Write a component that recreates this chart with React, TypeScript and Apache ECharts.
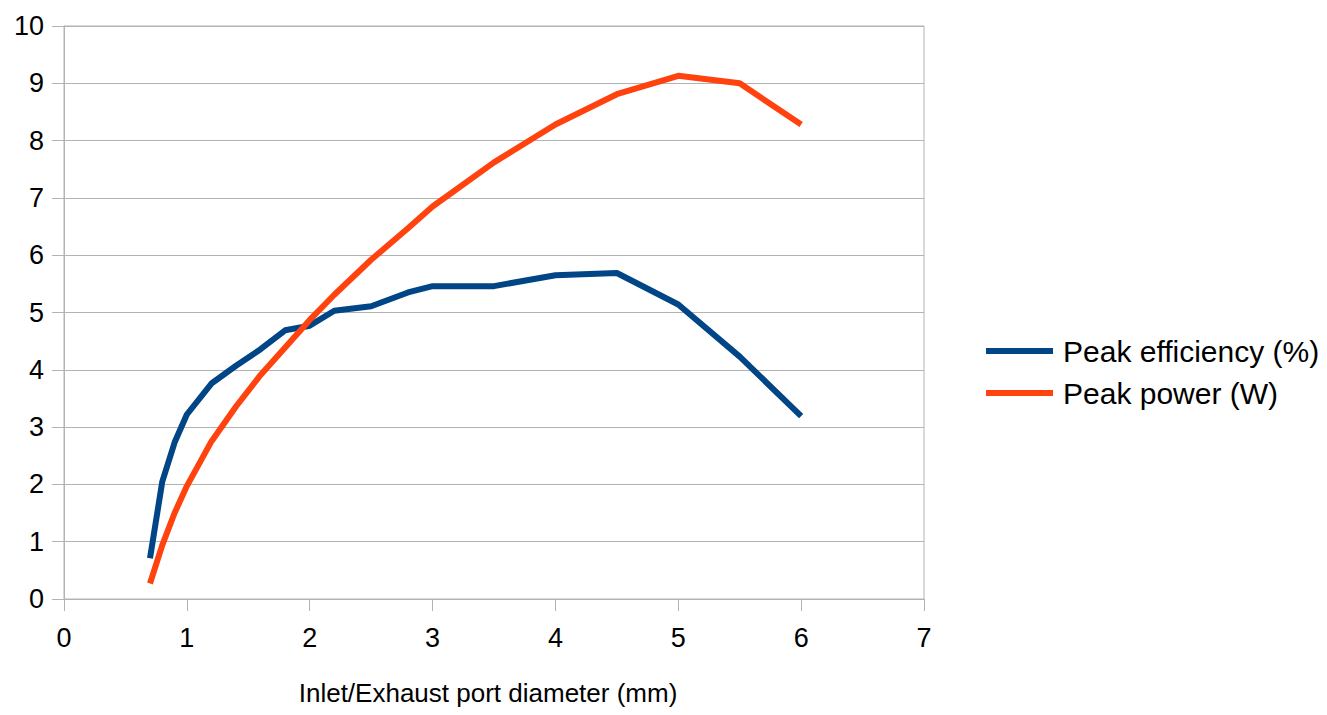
import React, { useEffect, useRef } from "react";
import * as echarts from "echarts";

const diameters = [0.7, 0.8, 0.9, 1.0, 1.2, 1.4, 1.6, 1.8, 2.0, 2.2, 2.5, 2.8, 3.0, 3.5, 4.0, 4.5, 5.0, 5.5, 6.0];
const peakEfficiency = [0.71, 2.05, 2.73, 3.22, 3.76, 4.07, 4.36, 4.69, 4.77, 5.03, 5.11, 5.35, 5.46, 5.46, 5.65, 5.69, 5.14, 4.23, 3.19];
const peakPower = [0.27, 0.94, 1.5, 1.97, 2.75, 3.36, 3.91, 4.39, 4.87, 5.31, 5.92, 6.47, 6.85, 7.62, 8.28, 8.81, 9.13, 9.0, 8.28];
const seriesNames = ["Peak efficiency (%)", "Peak power (W)"];
const xAxisTitle = "Inlet/Exhaust port diameter (mm)";

const FONT = "'Liberation Sans', Arial, sans-serif";

export default function App() {
  const ref = useRef<HTMLDivElement>(null);
  useEffect(() => {
    if (!ref.current) return;
    const chart = echarts.init(ref.current, undefined, { renderer: "svg" });
    const gray = "#b3b3b3";
    chart.setOption({
      animation: false,
      backgroundColor: "#ffffff",
      textStyle: { fontFamily: FONT },
      grid: {
        left: 64,
        right: 403,
        top: 26,
        bottom: 116,
        show: true,
        borderColor: gray,
        borderWidth: 1,
        containLabel: false,
      },
      legend: {
        orient: "vertical",
        left: 986,
        top: 336,
        padding: 0,
        icon: "rect",
        itemWidth: 67,
        itemHeight: 6,
        itemGap: 12,
        textStyle: { fontFamily: FONT, fontSize: 30, color: "#000", lineHeight: 30, padding: [0, 0, 0, 5] },
        data: seriesNames,
      },
      xAxis: {
        type: "value",
        min: 0,
        max: 7,
        interval: 1,
        name: xAxisTitle,
        nameLocation: "middle",
        nameGap: 81,
        nameTextStyle: { fontFamily: FONT, fontSize: 26, color: "#000", padding: [0, 12, 0, 0] },
        axisLine: { show: true, lineStyle: { color: gray, width: 1 } },
        axisTick: { show: true, length: 12, lineStyle: { color: gray } },
        axisLabel: { fontFamily: FONT, fontSize: 27, color: "#000", margin: 25 },
        splitLine: { show: false },
      },
      yAxis: {
        type: "value",
        min: 0,
        max: 10,
        interval: 1,
        axisLine: { show: true, lineStyle: { color: gray, width: 1 } },
        axisTick: { show: true, length: 12, lineStyle: { color: gray } },
        axisLabel: { fontFamily: FONT, fontSize: 27, color: "#000", margin: 20 },
        splitLine: { show: true, lineStyle: { color: gray, width: 1 } },
      },
      series: [
        {
          name: seriesNames[0],
          type: "line",
          data: diameters.map((d, i) => [d, peakEfficiency[i]]),
          showSymbol: false,
          lineStyle: { color: "#004586", width: 6, join: "round" },
          itemStyle: { color: "#004586" },
        },
        {
          name: seriesNames[1],
          type: "line",
          data: diameters.map((d, i) => [d, peakPower[i]]),
          showSymbol: false,
          lineStyle: { color: "#ff420e", width: 6, join: "round" },
          itemStyle: { color: "#ff420e" },
        },
      ],
    });
    return () => chart.dispose();
  }, []);
  return <div ref={ref} style={{ width: 1327, height: 715, position: "absolute", left: 0, top: 0 }} />;
}
